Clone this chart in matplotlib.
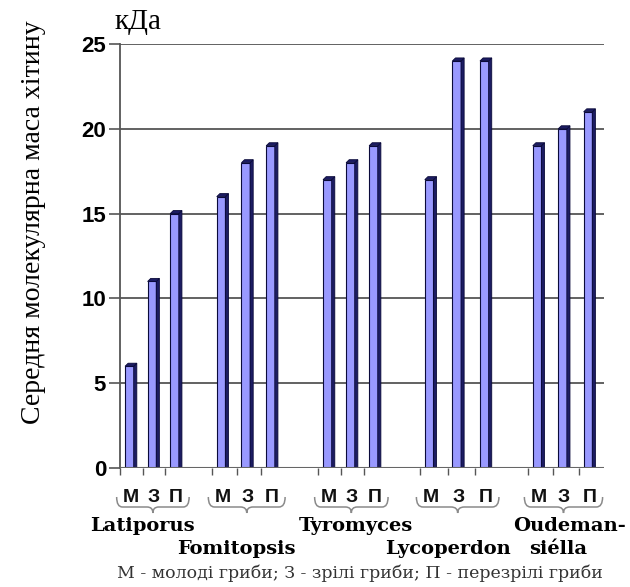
import numpy as np
import matplotlib
matplotlib.use("Agg")
import matplotlib.pyplot as plt
from matplotlib.patches import Polygon, PathPatch
from matplotlib.path import Path
from matplotlib.transforms import blended_transform_factory

# дані: середня молекулярна маса хітину, кДа
species = ["Latiporus", "Fomitopsis", "Tyromyces", "Lycoperdon", "Oudeman-\nsiélla"]
stages = ["М", "З", "П"]
young = [6, 16, 17, 17, 19]
mature = [11, 18, 18, 24, 20]
overripe = [15, 19, 19, 24, 21]
note = "М - молоді гриби; З - зрілі гриби; П - перезрілі гриби"

# розміщення груп стовпців (у ширинах кроку)
group_start = [0.21, 4.03, 8.46, 12.70, 17.20]
group_step = [0.94, 1.03, 0.96, 1.15, 1.06]
name_x = [0.95, 4.83, 9.83, 13.67, 18.72]
name_row = [0, 1, 0, 1, 0]

front_w = 0.36
side_w = 0.13
depth = 0.18
face = "#9999ff"
side = "#1c1c62"
edge = "#0a0a3a"

fig = plt.figure(figsize=(6.3, 5.87), dpi=100)
ax = fig.add_axes([0.1905, 0.2027, 0.7683, 0.7223])
ax.set_xlim(0, 20.17)
ax.set_ylim(0, 25)

for y in range(5, 26, 5):
    ax.axhline(y, color="#555555", lw=1.3, zorder=1)
ax.axhline(0, color="#666666", lw=1.5, zorder=4)

series = [young, mature, overripe]
tick_x = []
bar_centers = []
for g in range(len(species)):
    for s in range(3):
        v = series[s][g]
        x0 = group_start[g] + s * group_step[g]
        x1 = x0 + front_w
        ax.bar(x0, v, width=front_w, align="edge", color=face,
               edgecolor=edge, linewidth=0.8, zorder=3)
        ax.add_patch(Polygon([(x1, 0), (x1 + side_w, 0), (x1 + side_w, v + depth), (x1, v)],
                             closed=True, facecolor=side, edgecolor=edge, lw=0.6, zorder=3))
        ax.add_patch(Polygon([(x0, v), (x0 + side_w, v + depth), (x1 + side_w, v + depth), (x1, v)],
                             closed=True, facecolor=side, edgecolor=edge, lw=0.6, zorder=3))
        tick_x.append(x0 - 0.2)
        bar_centers.append(x0 + (front_w + side_w) / 2)

for sp in ["top", "right", "bottom"]:
    ax.spines[sp].set_visible(False)
ax.spines["left"].set_color("#555555")
ax.spines["left"].set_linewidth(1.3)

ax.set_yticks(range(0, 26, 5))
ax.set_yticklabels([str(t) for t in range(0, 26, 5)],
                   fontfamily="Liberation Sans", fontweight="bold", fontsize=16)
ax.tick_params(axis="y", length=8, width=1.2, color="#555555", pad=2)
ax.set_xticks(tick_x)
ax.set_xticklabels([])
ax.tick_params(axis="x", length=5, width=1.0, color="#555555")

trans = blended_transform_factory(ax.transData, fig.transFigure)


def fy(px):
    return 1 - px / 587


# підписи стадій під стовпцями
for i, xc in enumerate(bar_centers):
    ax.text(xc, fy(497), stages[i % 3], transform=trans, ha="center", va="center",
            fontfamily="Liberation Sans", fontweight="bold", fontsize=14, color="#111111")


def brace(xl, xr, ytop, ymid, ybot):
    xc = (xl + xr) / 2
    r = (xr - xl) * 0.08
    verts = [(xl, ytop), (xl, ymid), (xl + r, ymid),
             (xc - r, ymid), (xc, ymid), (xc, ybot),
             (xc, ymid), (xc + r, ymid),
             (xr - r, ymid), (xr, ymid), (xr, ytop)]
    codes = [Path.MOVETO, Path.CURVE3, Path.CURVE3,
             Path.LINETO, Path.CURVE3, Path.CURVE3,
             Path.CURVE3, Path.CURVE3,
             Path.LINETO, Path.CURVE3, Path.CURVE3]
    return PathPatch(Path(verts, codes), transform=trans, fill=False,
                     edgecolor="#8a8a8a", lw=1.1, clip_on=False)


name_font = dict(fontfamily="DejaVu Serif", fontweight="bold", fontsize=14)
for g in range(len(species)):
    xl = group_start[g] - 0.35
    xr = group_start[g] + 2 * group_step[g] + front_w + side_w + 0.3
    fig.patches.append(brace(xl, xr, fy(497), fy(507), fy(513)))
    lines = species[g].split("\n")
    if name_row[g] == 0:
        ax.text(name_x[g], fy(526), lines[0], transform=trans, ha="center", va="center", **name_font)
        if len(lines) > 1:
            ax.text(name_x[g] - 0.45, fy(549), lines[1], transform=trans,
                    ha="center", va="center", **name_font)
    else:
        ax.text(name_x[g], fy(549), lines[0], transform=trans, ha="center", va="center", **name_font)

fig.text(0.053, fy(222), "Середня молекулярна маса хітину", rotation=90,
         ha="center", va="center", fontfamily="Liberation Serif", fontsize=20)
fig.text(138 / 630, fy(22), "кДа", ha="center", va="center",
         fontfamily="Liberation Serif", fontsize=21)
fig.text(360 / 630, fy(573), note, ha="center", va="center",
         fontfamily="DejaVu Serif", fontsize=12.5, color="#333333")

fig.savefig("out.png", dpi=100)
